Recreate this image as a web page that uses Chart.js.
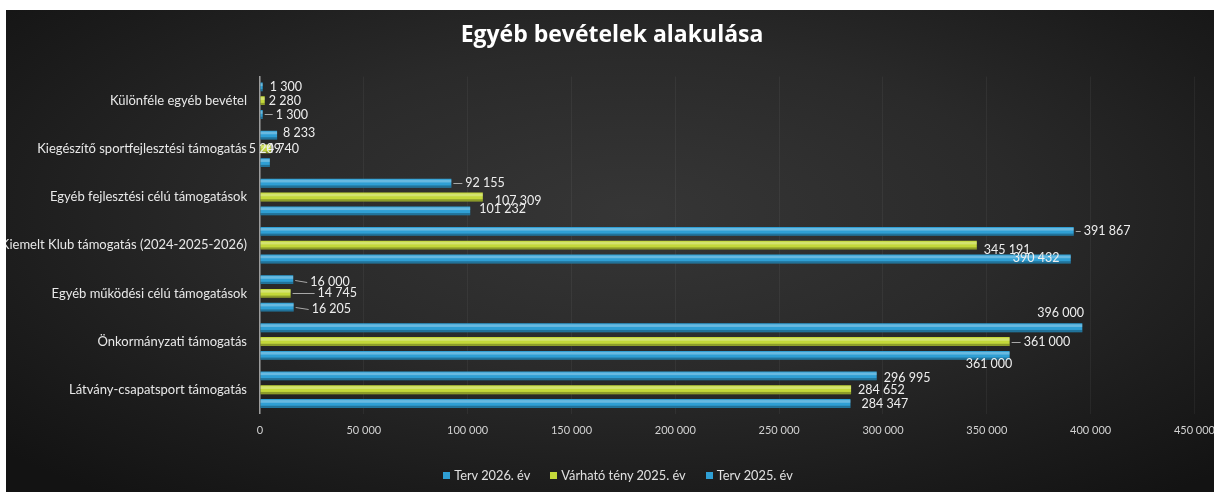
<!DOCTYPE html>
<html><head><meta charset="utf-8">
<script src="https://cdn.jsdelivr.net/npm/chart.js@4.4.1/dist/chart.umd.min.js"></script>
<style>
html,body{margin:0;padding:0;background:#fff;width:1214px;height:492px;overflow:hidden}
#wrap{position:absolute;left:6px;top:10px;width:1208px;height:482px;overflow:hidden;
background:radial-gradient(ellipse 70% 75% at 52% 42%, #363636 0%, #2a2a2a 45%, #1b1b1b 80%, #131313 100%);}
canvas{display:block;position:absolute;left:0;top:0}
#legend{position:absolute;left:0;width:1224px;top:457px;display:flex;justify-content:center;gap:20px;
font-family:Lato,"Open Sans",sans-serif;font-size:12.8px;color:#e0e0e0;line-height:16px}
#legend .it{display:flex;align-items:center}
#legend .mk{display:inline-block;width:7px;height:7px;margin-right:4px}
</style></head>
<body><div id="wrap"><canvas id="c" width="1212" height="482"></canvas><div id="legend"></div></div>
<script>
const categories = [
  "Különféle egyéb bevétel",
  "Kiegészítő sportfejlesztési támogatás",
  "Egyéb fejlesztési célú támogatások",
  "Kiemelt Klub támogatás (2024-2025-2026)",
  "Egyéb működési célú támogatások",
  "Önkormányzati támogatás",
  "Látvány-csapatsport támogatás"
];
const seriesNames = ["Terv 2026. év", "Várható tény 2025. év", "Terv 2025. év"];
const terv2026   = [1300, 8233, 92155, 391867, 16000, 396000, 296995];
const varhato2025 = [2280, 5209, 107309, 345191, 14745, 361000, 284652];
const terv2025   = [1300, 4740, 101232, 390432, 16205, 361000, 284347];
const xTicks = [0, 50000, 100000, 150000, 200000, 250000, 300000, 350000, 400000, 450000];

// label nudges relative to bar end: [dx, dy, leaderLine]
const labelNudge = [
  [[7,0],[6,-2],[14,0,1],[10,0,1],[17,2,1],[-45,-15],[7,2]],
  [[4,0],[-22,0],[12,4],[7,5],[27,0,1],[14,0,1],[7,0]],
  [[13,0,1],[-3,-14],[9,-2],[-58,-1],[18,2,1],[-44,9],[11,0]]
];

const fmt = v => String(v).replace(/\B(?=(\d{3})+(?!\d))/g, ' ');
const FONT = 'Lato, "Open Sans", sans-serif';
const BLUE = '#2f9fd4', GREEN = '#c3d83a';
const colors = [BLUE, GREEN, BLUE];

const barShade = {
  id: 'barShade',
  afterDatasetsDraw(chart) {
    const ctx = chart.ctx;
    ctx.save();
    chart.data.datasets.forEach((ds, di) => {
      chart.getDatasetMeta(di).data.forEach(bar => {
        const h = bar.height, top = bar.y - h / 2;
        const x0 = Math.min(bar.base, bar.x), w = Math.abs(bar.x - bar.base);
        ctx.fillStyle = 'rgba(255,255,255,0.28)';
        ctx.fillRect(x0, top + 1, w, h * 0.3);
        ctx.fillStyle = 'rgba(0,0,0,0.28)';
        ctx.fillRect(x0, top + h * 0.75, w, h * 0.25);
      });
    });
    ctx.restore();
  }
};

const barLabels = {
  id: 'barLabels',
  afterDatasetsDraw(chart) {
    const ctx = chart.ctx;
    ctx.save();
    ctx.font = '12.5px ' + FONT;
    ctx.textBaseline = 'middle';
    ctx.textAlign = 'left';
    chart.data.datasets.forEach((ds, di) => {
      chart.getDatasetMeta(di).data.forEach((bar, i) => {
        const n = labelNudge[di][i];
        const x = bar.x + n[0], y = bar.y + n[1];
        if (n[2]) {
          ctx.strokeStyle = '#a8a8a8';
          ctx.lineWidth = 1;
          ctx.beginPath();
          ctx.moveTo(bar.x + 2, Math.round(bar.y) + 0.5);
          ctx.lineTo(x - 3, Math.round(y) + 0.5);
          ctx.stroke();
        }
        ctx.fillStyle = '#eeeeee';
        ctx.fillText(fmt(ds.data[i]), x, y);
      });
    });
    ctx.restore();
  }
};

const chart = new Chart(document.getElementById('c'), {
  type: 'bar',
  data: {
    labels: categories,
    datasets: seriesNames.map((name, k) => ({
      label: name, data: [terv2026, varhato2025, terv2025][k], backgroundColor: colors[k]
    }))
  },
  options: {
    indexAxis: 'y',
    responsive: false,
    animation: false,
    devicePixelRatio: 1,
    categoryPercentage: 0.86,
    barPercentage: 0.64,
    layout: { padding: { left: 0, right: 0, top: 0, bottom: 52 } },
    plugins: {
      title: {
        display: true,
        text: 'Egyéb bevételek alakulása',
        color: '#ffffff',
        font: { family: '"Open Sans", Lato, sans-serif', size: 23, weight: 'bold' },
        padding: { top: 12, bottom: 27 }
      },
      legend: { display: false },
      tooltip: { enabled: false }
    },
    scales: {
      x: {
        min: 0, max: 450000,
        afterBuildTicks(scale) { scale.ticks = xTicks.map(v => ({ value: v })); },
        ticks: { color: '#d2d2d2', font: { family: FONT, size: 11 }, padding: 3, callback: v => fmt(v), maxRotation: 0 },
        grid: { color: 'rgba(255,255,255,0.05)', drawTicks: true, tickLength: 7, tickColor: 'rgba(0,0,0,0)' },
        border: { display: false }
      },
      y: {
        afterFit(scale) { scale.width = 254; },
        ticks: { color: '#e8e8e8', font: { family: FONT, size: 13 }, padding: 5 },
        grid: { display: false },
        border: { display: true, color: '#9c9c9c', width: 1.5 }
      }
    }
  },
  plugins: [barShade, barLabels]
});

const leg = document.getElementById('legend');
seriesNames.forEach((name, k) => {
  const it = document.createElement('span'); it.className = 'it';
  const mk = document.createElement('span'); mk.className = 'mk'; mk.style.background = colors[k];
  it.appendChild(mk); it.appendChild(document.createTextNode(name));
  leg.appendChild(it);
});
</script>
</body></html>
